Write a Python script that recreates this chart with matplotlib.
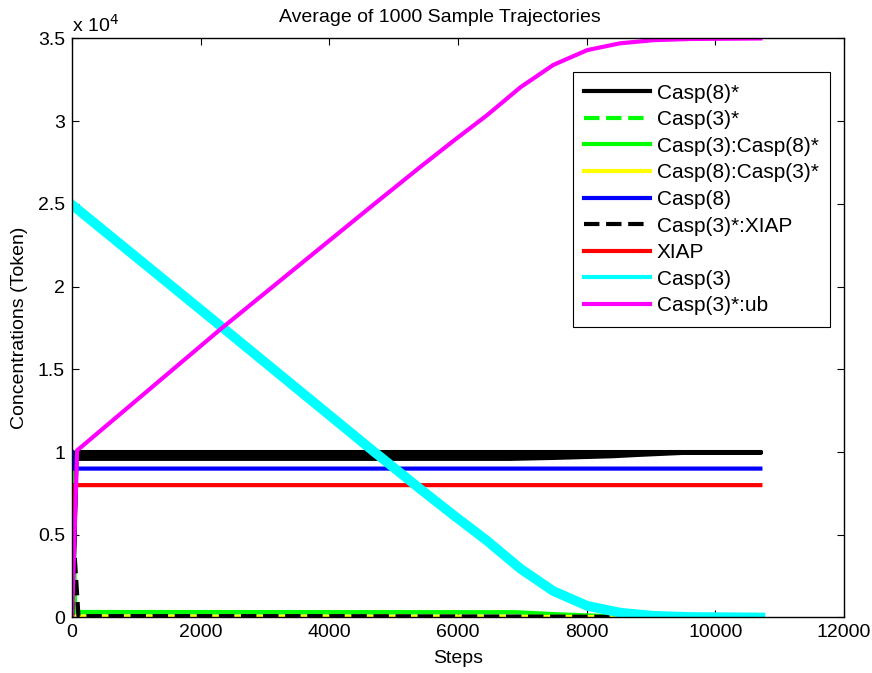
import numpy as np
import matplotlib
matplotlib.use('Agg')
import matplotlib.pyplot as plt

plt.rcParams['font.family'] = ['Liberation Sans', 'DejaVu Sans']

# Casp(8)* (black band: lower / upper edge of the averaged trajectory)
casp8_act_x = [0, 60, 100, 6800, 7500, 8400, 8800, 9600, 10700]
casp8_act_lo = [0, 9600, 9620, 9620, 9680, 9780, 9860, 10000, 10000]
casp8_act_hi = [0, 10000, 10000, 10000, 10000, 10000, 10000, 10000, 10000]

# Casp(3)*
casp3_act_x = [0, 60, 100, 4000, 8000, 10700]
casp3_act_y = [0, 60, 60, 60, 40, 20]

# Casp(3):Casp(8)*
c3c8_x = [0, 50, 100, 6900, 7500, 8200, 8700, 10700]
c3c8_y = [10000, 330, 330, 320, 200, 100, 20, 0]

# Casp(8):Casp(3)*
c8c3_x = [0, 60, 100, 8600, 10700]
c8c3_y = [0, 50, 50, 30, 10]

# Casp(8)
casp8_x = [0, 20, 10700]
casp8_y = [10000, 9000, 9000]

# Casp(3)*:XIAP
c3xiap_x = [0, 40, 100, 4000, 8600, 10700]
c3xiap_y = [0, 3800, 80, 80, 40, 20]

# XIAP
xiap_x = [0, 30, 10700]
xiap_y = [0, 8000, 8000]

# Casp(3)
casp3_x = [0, 2300, 4700, 5412, 5925, 6450, 6970, 7480, 8010, 8520, 9040, 9600, 10700]
casp3_y = [24950, 17650, 10000, 7770, 6200, 4640, 2950, 1600, 700, 290, 100, 30, 0]

# Casp(3)*:ub
ub_x = [0, 80, 2300, 4700, 5412, 5925, 6450, 6970, 7480, 8010, 8520, 9040, 9600, 10700]
ub_y = [0, 10100, 17400, 25000, 27230, 28800, 30360, 32050, 33400, 34300, 34710, 34900, 34970, 35000]

xticks = [0, 2000, 4000, 6000, 8000, 10000, 12000]
yticks = [0, 5000, 10000, 15000, 20000, 25000, 30000, 35000]
ytick_labels = ['0', '0.5', '1', '1.5', '2', '2.5', '3', '3.5']

fig = plt.figure(figsize=(8.72, 6.73), dpi=100)
ax = fig.add_axes([0.0826, 0.0825, 0.8853, 0.8603])

lw = 3.0
ax.fill_between(casp8_act_x, casp8_act_lo, casp8_act_hi, color='k', lw=lw)
ax.plot(casp8_act_x, casp8_act_hi, color='k', lw=lw, label='Casp(8)*')
ax.plot(casp3_act_x, casp3_act_y, '--', color='#00ff00', lw=lw, label='Casp(3)*')
ax.plot(c3c8_x, c3c8_y, color='#00ff00', lw=lw, label='Casp(3):Casp(8)*')
ax.plot(c8c3_x, c8c3_y, color='#ffff00', lw=lw, label='Casp(8):Casp(3)*')
ax.plot(casp8_x, casp8_y, color='#0000ff', lw=lw, label='Casp(8)')
ax.plot(c3xiap_x, c3xiap_y, '--', color='k', lw=lw, label='Casp(3)*:XIAP')
ax.plot(xiap_x, xiap_y, color='#ff0000', lw=lw, label='XIAP')
ax.plot(casp3_x, casp3_y, color='#00ffff', lw=7, label='Casp(3)')
ax.plot(ub_x, ub_y, color='#ff00ff', lw=lw, label='Casp(3)*:ub')

ax.set_xlim(0, 12000)
ax.set_ylim(0, 35000)
ax.set_xticks(xticks)
ax.set_xticklabels([str(t) for t in xticks])
ax.set_yticks(yticks)
ax.set_yticklabels(ytick_labels)
ax.tick_params(direction='in', top=True, right=True, labelsize=14, length=5, width=0.8, pad=5)
for s in ax.spines.values():
    s.set_linewidth(1.0)

ax.text(0.0, 1.005, r'x 10$^4$', transform=ax.transAxes, fontsize=14, ha='left', va='bottom')
ax.set_title('Average of 1000 Sample Trajectories', fontsize=14, pad=12, x=0.476)
ax.set_xlabel('Steps', fontsize=14, labelpad=6)
ax.set_ylabel('Concentrations (Token)', fontsize=14, labelpad=7)

handles, labels = ax.get_legend_handles_labels()
handles[-2] = plt.Line2D([], [], color='#00ffff', lw=lw)
leg = ax.legend(handles, labels, loc='upper right', bbox_to_anchor=(0.982, 0.942), borderaxespad=0,
                fontsize=15, handlelength=3.15, handletextpad=0.33, labelspacing=0.365,
                fancybox=False, edgecolor='k', framealpha=1, borderpad=0.55)
leg.get_frame().set_linewidth(0.8)

fig.savefig('out.png', dpi=100)
